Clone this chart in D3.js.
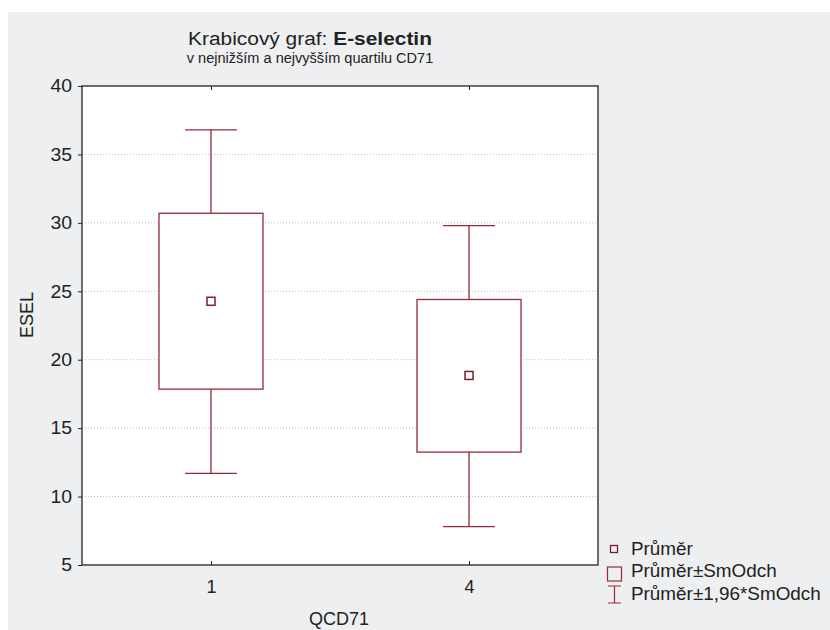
<!DOCTYPE html>
<html>
<head>
<meta charset="utf-8">
<script src="https://cdn.jsdelivr.net/npm/d3@7"></script>
<style>
  body { margin: 0; background: #fff; }
  svg text { font-family: "Liberation Sans", Arial, sans-serif; fill: #222; }
</style>
</head>
<body>
<div id="chart"></div>
<script>
// groups of QCD71 and the ESEL values
var groups = ["1", "4"];
var means = [24.27, 18.85];
var boxLow = [17.85, 13.25];      // mean - SD
var boxHigh = [30.7, 24.4];       // mean + SD
var whiskerLow = [11.7, 7.8];     // mean - 1.96*SD
var whiskerHigh = [36.8, 29.8];   // mean + 1.96*SD
var yTicks = [5, 10, 15, 20, 25, 30, 35, 40];
var legendItems = ["Průměr", "Průměr±SmOdch", "Průměr±1,96*SmOdch"];

var width = 830, height = 630;
var margin = { left: 82, right: 232, top: 86, bottom: 65 };
var color = "#962a36";

// the original text is drawn a little wider than Arial
function stretch(sel, k) {
  sel.each(function () {
    var t = d3.select(this);
    var x0 = +t.attr("x") || 0;
    t.attr("transform", "translate(" + x0 * (1 - k) + ",0) scale(" + k + ",1)");
  });
}

var svg = d3.select("#chart").append("svg")
  .attr("width", width).attr("height", height);

svg.append("rect")
  .attr("x", 8).attr("y", 12)
  .attr("width", width - 8).attr("height", height - 12)
  .attr("fill", "#eeeff1");

var x = d3.scalePoint()
  .domain(groups)
  .range([margin.left, width - margin.right])
  .padding(0.5);

var y = d3.scaleLinear()
  .domain([5, 40])
  .range([height - margin.bottom, margin.top]);

var plotW = width - margin.right - margin.left;

svg.append("rect")
  .attr("x", margin.left).attr("y", margin.top)
  .attr("width", plotW).attr("height", y(5) - y(40))
  .attr("fill", "#fff");

// dotted grid
svg.selectAll(".grid")
  .data(yTicks.slice(1, -1))
  .enter()
  .append("line")
  .attr("x1", margin.left).attr("x2", width - margin.right)
  .attr("y1", function (d) { return y(d); })
  .attr("y2", function (d) { return y(d); })
  .attr("stroke", "#bdbdbd")
  .attr("stroke-dasharray", "1,2");

var boxW = 104, capW = 52;

var g = svg.selectAll(".grp")
  .data(groups)
  .enter()
  .append("g");

g.append("line")
  .attr("x1", function (d) { return x(d); })
  .attr("x2", function (d) { return x(d); })
  .attr("y1", function (d, i) { return y(whiskerLow[i]); })
  .attr("y2", function (d, i) { return y(whiskerHigh[i]); })
  .attr("stroke", color).attr("stroke-width", 1.3);

g.selectAll(".cap")
  .data(function (d, i) { return [[d, whiskerLow[i]], [d, whiskerHigh[i]]]; })
  .enter()
  .append("line")
  .attr("x1", function (d) { return x(d[0]) - capW / 2; })
  .attr("x2", function (d) { return x(d[0]) + capW / 2; })
  .attr("y1", function (d) { return y(d[1]); })
  .attr("y2", function (d) { return y(d[1]); })
  .attr("stroke", color).attr("stroke-width", 1.3);

g.append("rect")
  .attr("x", function (d) { return x(d) - boxW / 2; })
  .attr("y", function (d, i) { return y(boxHigh[i]); })
  .attr("width", boxW)
  .attr("height", function (d, i) { return y(boxLow[i]) - y(boxHigh[i]); })
  .attr("fill", "#fff")
  .attr("stroke", color).attr("stroke-width", 1.3);

g.append("rect")
  .attr("x", function (d) { return x(d) - 4; })
  .attr("y", function (d, i) { return y(means[i]) - 4; })
  .attr("width", 8).attr("height", 8)
  .attr("fill", "none")
  .attr("stroke", "#7a1e2a").attr("stroke-width", 1.5);

// frame
svg.append("rect")
  .attr("x", margin.left).attr("y", margin.top)
  .attr("width", plotW).attr("height", y(5) - y(40))
  .attr("fill", "none").attr("stroke", "#222").attr("stroke-width", 1.3);

// axes
var yAxis = svg.append("g")
  .attr("transform", "translate(" + margin.left + ",0)")
  .call(d3.axisLeft(y).tickValues(yTicks).tickSize(4).tickPadding(6));
yAxis.select(".domain").remove();

var xAxis = svg.append("g")
  .attr("transform", "translate(0," + y(5) + ")")
  .call(d3.axisBottom(x).tickSize(-4).tickPadding(15));
xAxis.select(".domain").remove();

svg.append("g")
  .attr("transform", "translate(0," + y(40) + ")")
  .call(d3.axisTop(x).tickSize(-4).tickFormat(""))
  .select(".domain").remove();

svg.selectAll(".tick line").attr("stroke", "#222");
svg.selectAll(".tick text")
  .attr("font-size", 18)
  .attr("fill", "#333");
stretch(yAxis.selectAll(".tick text"), 1.08);

// titles
var title = svg.append("text")
  .attr("x", 310).attr("y", 45)
  .attr("text-anchor", "middle")
  .attr("font-size", 19);
title.append("tspan").text("Krabicový graf: ");
title.append("tspan").attr("font-weight", "bold").text("E-selectin");
stretch(title, 1.1);

var sub = svg.append("text")
  .attr("x", 310).attr("y", 63)
  .attr("text-anchor", "middle")
  .attr("font-size", 14)
  .attr("fill", "#333")
  .text("v nejnižším a nejvyšším quartilu CD71");
stretch(sub, 1.04);

svg.append("text")
  .attr("transform", "translate(33,315) rotate(-90)")
  .attr("text-anchor", "middle")
  .attr("font-size", 18)
  .attr("fill", "#333")
  .text("ESEL");

svg.append("text")
  .attr("x", 339)
  .attr("y", 625)
  .attr("text-anchor", "middle")
  .attr("font-size", 18)
  .attr("fill", "#333")
  .text("QCD71");

// legend
var leg = svg.append("g").attr("transform", "translate(607,0)");
var rowY = [549, 571, 594];

leg.append("rect")
  .attr("x", 3.5).attr("y", rowY[0] - 3.5)
  .attr("width", 7).attr("height", 7)
  .attr("fill", "none").attr("stroke", "#7a1e2a").attr("stroke-width", 1.3);
leg.append("rect")
  .attr("x", 0.5).attr("y", rowY[1] - 4)
  .attr("width", 14).attr("height", 14)
  .attr("fill", "none").attr("stroke", color).attr("stroke-width", 1.2);
leg.append("path")
  .attr("d", "M1," + (rowY[2] - 8) + "H14M7.5," + (rowY[2] - 8) + "V" + (rowY[2] + 9) + "M1," + (rowY[2] + 9) + "H14")
  .attr("fill", "none").attr("stroke", color).attr("stroke-width", 1.2);

var legText = leg.selectAll(".lt")
  .data(legendItems)
  .enter()
  .append("text")
  .attr("x", 24)
  .attr("y", function (d, i) { return rowY[i] + 6; })
  .attr("font-size", 18)
  .attr("fill", "#333")
  .text(function (d) { return d; });
stretch(legText, 1.05);
</script>
</body>
</html>
